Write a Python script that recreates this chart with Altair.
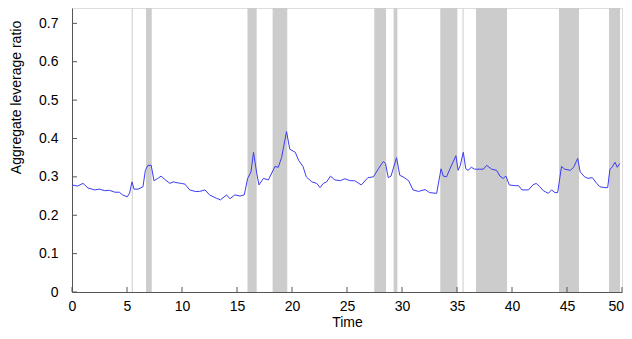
import altair as alt
import pandas as pd

# Time series
time = [0, 0.5, 1.0, 1.45, 2.06, 2.5, 2.97, 3.4, 3.9, 4.3,
        4.6, 5.03, 5.24, 5.45, 5.64, 6.0, 6.45, 6.67, 6.9, 7.2,
        7.45, 7.8, 8.1, 8.45, 8.9, 9.2, 9.66, 9.97, 10.27, 10.7,
        11.2, 11.6, 12.1, 12.5, 13.15, 13.5, 14.05, 14.36, 14.8, 15.27,
        15.66, 15.97, 16.27, 16.5, 16.8, 17.0, 17.4, 17.85, 18.45, 18.75,
        19.06, 19.5, 19.8, 20.3, 20.6, 21.0, 21.3, 21.8, 22.25, 22.55,
        22.85, 23.15, 23.5, 23.9, 24.4, 24.8, 25.3, 25.7, 26.3, 26.9,
        27.4, 27.85, 28.3, 28.5, 28.75, 29.0, 29.5, 29.8, 30.1, 30.6,
        31.0, 31.5, 32.1, 32.5, 33.15, 33.55, 33.75, 34.05, 34.36, 34.9,
        35.1, 35.3, 35.57, 35.8, 36.0, 36.3, 36.6, 37.1, 37.4, 37.7,
        38.15, 38.6, 38.9, 39.2, 39.45, 39.75, 40.3, 40.6, 40.9, 41.5,
        41.9, 42.2, 42.5, 42.85, 43.3, 43.6, 43.9, 44.15, 44.5, 44.8,
        45.3, 45.6, 45.97, 46.2, 46.6, 46.9, 47.3, 47.7, 48.0, 48.45,
        48.7, 48.9, 49.1, 49.36, 49.57, 49.8]
ratio = [0.279, 0.276, 0.283, 0.271, 0.266, 0.268, 0.264, 0.265, 0.26, 0.26,
         0.253, 0.248, 0.258, 0.287, 0.268, 0.268, 0.274, 0.317, 0.33, 0.33,
         0.29, 0.296, 0.302, 0.293, 0.283, 0.287, 0.284, 0.283, 0.281, 0.266,
         0.262, 0.262, 0.266, 0.253, 0.244, 0.24, 0.253, 0.243, 0.253, 0.25,
         0.253, 0.296, 0.313, 0.364, 0.308, 0.279, 0.296, 0.292, 0.327, 0.325,
         0.351, 0.418, 0.372, 0.364, 0.343, 0.327, 0.3, 0.287, 0.283, 0.272,
         0.283, 0.287, 0.302, 0.292, 0.29, 0.295, 0.29, 0.29, 0.279, 0.298,
         0.3, 0.321, 0.34, 0.335, 0.298, 0.302, 0.35, 0.304, 0.3, 0.29,
         0.266, 0.262, 0.267, 0.259, 0.257, 0.321, 0.302, 0.3, 0.321, 0.355,
         0.317, 0.33, 0.364, 0.321, 0.317, 0.325, 0.32, 0.32, 0.32, 0.33,
         0.32, 0.317, 0.302, 0.296, 0.302, 0.279, 0.277, 0.277, 0.266, 0.266,
         0.279, 0.283, 0.275, 0.264, 0.257, 0.266, 0.259, 0.259, 0.327, 0.32,
         0.317, 0.325, 0.348, 0.313, 0.3, 0.296, 0.298, 0.283, 0.274, 0.272,
         0.272, 0.32, 0.325, 0.338, 0.325, 0.335]

# Shaded periods
band_start = [6.73, 15.95, 18.24, 27.48, 29.24, 33.48, 36.73, 44.27, 48.82]
band_end = [7.25, 16.79, 19.57, 28.55, 29.58, 35.03, 39.55, 46.09, 49.82]
thin_marks = [5.48, 35.55]

x_ticks = [0, 5, 10, 15, 20, 25, 30, 35, 40, 45, 50]
y_ticks = [0, 0.1, 0.2, 0.3, 0.4, 0.5, 0.6, 0.7]

line_df = pd.DataFrame({"t": time, "r": ratio})
band_df = pd.DataFrame({"s": band_start, "e": band_end})
thin_df = pd.DataFrame({"t": thin_marks})
xt_df = pd.DataFrame({"t": x_ticks})
yt_df = pd.DataFrame({"r": y_ticks})

W, H = 550, 284
FONT = "Liberation Sans"
xscale = alt.Scale(domain=[0, 50], nice=False, zero=False)
yscale = alt.Scale(domain=[0, 0.74], nice=False)

xaxis = alt.Axis(values=x_ticks, title="Time", ticks=False, grid=False,
                 labelFont=FONT, labelFontSize=14, labelColor="black",
                 labelPadding=7, titleFont=FONT, titleFontSize=14,
                 titleFontWeight="normal", titleColor="black",
                 titleY=23, titleBaseline="top",
                 labelAlign={"condition": {"test": "datum.value == 50", "value": "right"},
                             "value": "center"},
                 labelOffset={"condition": {"test": "datum.value == 50", "value": 1.5},
                              "value": 0},
                 domainColor="#555555", labelFlush=False)
yaxis = alt.Axis(values=y_ticks, title="Aggregate leverage ratio", ticks=False,
                 grid=False, labelFont=FONT, labelFontSize=14, labelColor="black",
                 labelPadding=14, titleFont=FONT, titleFontSize=14,
                 titleFontWeight="normal", titleColor="black",
                 titleX=-49, titleY=89, titleBaseline="bottom", titleAlign="center",
                 domainColor="#555555", labelFlush=False,
                 labelExpr="datum.value == 0 ? '0' : format(datum.value, '.1f')")

bands = alt.Chart(band_df).mark_rect(color="#cccccc").encode(
    x=alt.X("s:Q", scale=xscale, axis=xaxis),
    x2="e:Q",
    y=alt.value(0),
    y2=alt.value(H),
)

thin = alt.Chart(thin_df).mark_rule(color="#d4d4d4", strokeWidth=1.2).encode(
    x=alt.X("t:Q", scale=xscale),
    y=alt.value(0),
    y2=alt.value(H),
)

line = alt.Chart(line_df).mark_line(color="#3c3cf2", strokeWidth=1).encode(
    x=alt.X("t:Q", scale=xscale),
    y=alt.Y("r:Q", scale=yscale, axis=yaxis),
)

xticks = alt.Chart(xt_df).mark_rule(color="#555555", strokeWidth=1).encode(
    x=alt.X("t:Q", scale=xscale),
    y=alt.value(H),
    y2=alt.value(H - 5),
)

yticks = alt.Chart(yt_df).mark_rule(color="#555555", strokeWidth=1).encode(
    y=alt.Y("r:Q", scale=yscale),
    x=alt.value(0),
    x2=alt.value(5),
)

chart = alt.layer(bands, thin, line, xticks, yticks).properties(
    width=W,
    height=H,
    autosize=alt.AutoSizeParams(type="none"),
    padding={"left": 64, "top": 0, "right": 2, "bottom": 323 - H},
).configure_view(stroke=None).configure(background="white")

chart.save("out.html", embed_options={"renderer": "svg", "actions": False})
